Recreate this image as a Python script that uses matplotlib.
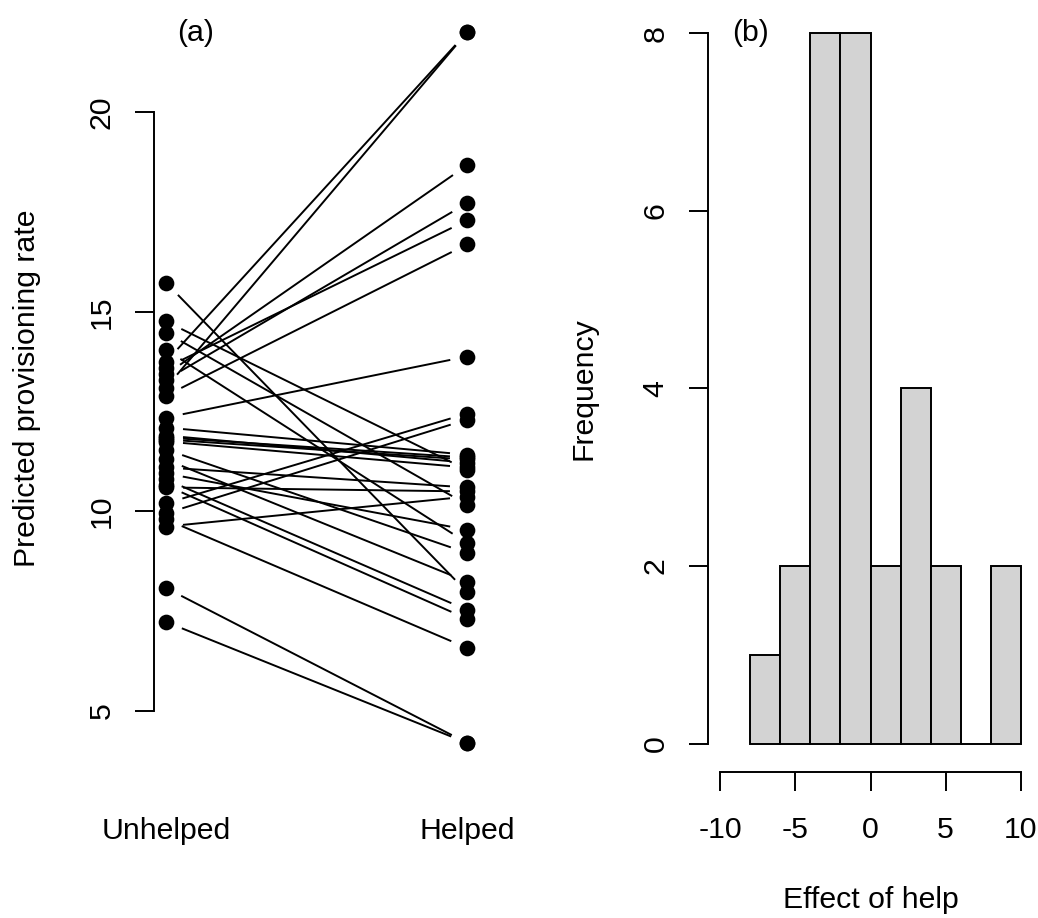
import numpy as np
import matplotlib.pyplot as plt

plt.rcParams['font.family'] = ['Liberation Sans', 'DejaVu Sans']

# predicted provisioning rate per nest, unhelped vs helped
unhelped = [13.75, 13.10, 13.43, 13.30, 13.60, 12.90, 10.20, 9.95, 12.35, 9.62,
            15.73, 14.76, 14.48, 14.05, 12.10, 11.85, 11.80, 11.90, 11.75, 11.10,
            10.95, 10.60, 11.55, 11.30, 10.80, 10.65, 9.80, 8.08, 7.23]
helped = [22.00, 22.00, 18.67, 17.72, 17.29, 16.69, 12.45, 12.30, 13.88, 10.37,
          7.98, 11.04, 10.17, 9.21, 11.42, 11.35, 11.30, 11.22, 11.10, 10.60,
          9.54, 10.50, 8.96, 8.24, 7.53, 7.31, 6.58, 4.20, 4.20]
group_labels = ['Unhelped', 'Helped']
yticks_a = [5, 10, 15, 20]
hist_bins = [-8, -6, -4, -2, 0, 2, 4, 6, 8, 10]
xticks_b = [-10, -5, 0, 5, 10]
yticks_b = [0, 2, 4, 6, 8]

W, H = 1038, 918
fs = 21.8
lw = 1.4
tick_len = 13.7

fig = plt.figure(figsize=(W / 100, H / 100), dpi=100)


def px_axes(x0, x1, y0, y1):
    # pixel box (left, right, top, bottom) -> figure fraction
    return fig.add_axes([x0 / W, 1 - y1 / H, (x1 - x0) / W, (y1 - y0) / H])


# ---- panel (a)
ax = px_axes(154, 479, 4.9, 772)
ax.set_xlim(0.96, 2.04)
ax.set_ylim(3.47, 22.69)

gap = 18  # px gap round points, like R type="b"
for u, h in zip(unhelped, helped):
    p0 = ax.transData.transform((1, u))
    p1 = ax.transData.transform((2, h))
    d = p1 - p0
    d = d / np.hypot(*d)
    q0 = ax.transData.inverted().transform(p0 + gap * d)
    q1 = ax.transData.inverted().transform(p1 - gap * d)
    ax.plot([q0[0], q1[0]], [q0[1], q1[1]], color='black', lw=lw)
ax.plot([1] * len(unhelped), unhelped, 'o', color='black', ms=11.3, mew=0)
ax.plot([2] * len(helped), helped, 'o', color='black', ms=11.3, mew=0)

for s in ['top', 'right', 'bottom']:
    ax.spines[s].set_visible(False)
ax.spines['left'].set_bounds(5, 20)
ax.spines['left'].set_linewidth(lw)
ax.set_yticks(yticks_a)
ax.set_yticklabels([str(v) for v in yticks_a], rotation=90, va='center')
ax.tick_params(axis='y', length=tick_len, width=lw, pad=14, labelsize=fs)
ax.set_xticks([1, 2])
ax.set_xticklabels(group_labels)
ax.tick_params(axis='x', length=0, pad=32.5, labelsize=fs)
ax.set_ylabel('Predicted provisioning rate', fontsize=fs)
ax.yaxis.set_label_coords((41 - 154) / (479 - 154), 0.5)
fig.text(196 / W, 1 - 33 / H, '(a)', fontsize=fs, ha='center', va='center')

# ---- panel (b)
effect = np.array(helped) - np.array(unhelped)
bx = px_axes(708, 1033, 4.9, 772)
bx.hist(effect, bins=hist_bins, color='#D3D3D3', edgecolor='black', linewidth=lw)
bx.set_xlim(-10.8, 10.8)
bx.set_ylim(-0.32, 8.32)
for s in ['top', 'right']:
    bx.spines[s].set_visible(False)
bx.spines['left'].set_bounds(0, 8)
bx.spines['bottom'].set_bounds(-10, 10)
bx.spines['left'].set_linewidth(lw)
bx.spines['bottom'].set_linewidth(lw)
bx.set_xticks(xticks_b)
bx.set_xticklabels([str(v) for v in xticks_b])
bx.set_yticks(yticks_b)
bx.set_yticklabels([str(v) for v in yticks_b], rotation=90, va='center')
bx.tick_params(axis='x', length=tick_len, width=lw, pad=18, labelsize=fs)
bx.tick_params(axis='y', length=tick_len, width=lw, pad=14, labelsize=fs)
bx.set_ylabel('Frequency', fontsize=fs)
bx.yaxis.set_label_coords((598 - 708) / (1033 - 708), 0.5)
bx.set_xlabel('Effect of help', fontsize=fs)
bx.xaxis.set_label_coords(0.5, -(886 - 772) / (772 - 4.9))
fig.text(750 / W, 1 - 33 / H, '(b)', fontsize=fs, ha='center', va='center')

fig.savefig('out.png', dpi=100)
